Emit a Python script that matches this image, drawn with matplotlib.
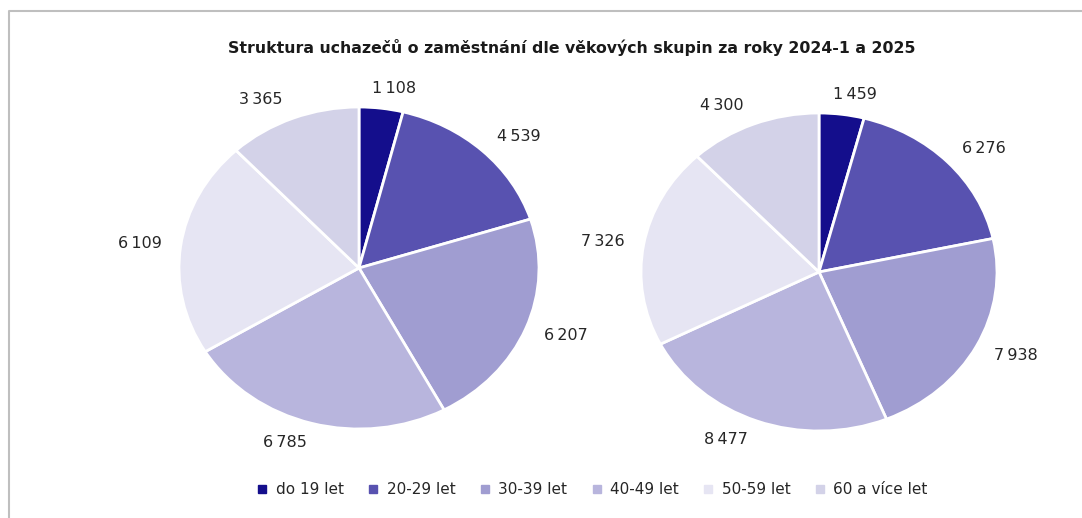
import numpy as np
import matplotlib.pyplot as plt
from matplotlib.lines import Line2D

categories = ["do 19 let", "20-29 let", "30-39 let", "40-49 let", "50-59 let", "60 a více let"]
values_2024 = [1108, 4539, 6207, 6785, 6109, 3365]
values_2025 = [1459, 6276, 7938, 8477, 7326, 4300]
colors = ["#140e8c", "#5852b0", "#a09dd1", "#b8b5dd", "#e6e5f3", "#d3d2e8"]

W, H = 1082, 518
fig = plt.figure(figsize=(W / 100, H / 100), dpi=100)


def fmt(v):
    return f"{v:,}".replace(",", "\u2009")


def draw_pie(values, cx, cy, rx, ry):
    # axes sized so that radius 1 maps to rx, ry pixels (ellipse like the original)
    lim = 1.5
    ax = fig.add_axes([(cx - rx * lim) / W, 1 - (cy + ry * lim) / H,
                       2 * rx * lim / W, 2 * ry * lim / H])
    wedges, _ = ax.pie(values, colors=colors, startangle=90, counterclock=False,
                       wedgeprops=dict(edgecolor="white", linewidth=2))
    ax.set_aspect("auto")
    ax.set_xlim(-lim, lim)
    ax.set_ylim(-lim, lim)
    ax.patch.set_visible(False)
    # labels outside end, pushed sideways like Excel does
    for w, v in zip(wedges, values):
        a = np.deg2rad((w.theta1 + w.theta2) / 2)
        c, s = np.cos(a), np.sin(a)
        dx = 19 * np.clip(c / 0.3, -1, 1)
        ax.annotate(fmt(v), xy=(1.08 * c, 1.08 * s), xytext=(dx, 5 * s),
                    textcoords="offset points", ha="center", va="center",
                    fontsize=11.5, color="#262626", annotation_clip=False)
    return wedges


draw_pie(values_2024, 359, 268, 180, 161)
draw_pie(values_2025, 819, 272, 178, 159)

fig.text(572 / W, 1 - 47 / H,
         "Struktura uchazečů o zaměstnání dle věkových skupin za roky 2024-1 a 2025",
         ha="center", va="center", fontsize=11.3, fontweight="bold", color="#1a1a1a")

handles = [Line2D([], [], marker="s", linestyle="", markersize=6, color=c) for c in colors]
fig.legend(handles, categories, loc="center", bbox_to_anchor=(592 / W, 1 - 490 / H),
           ncol=6, frameon=False, handlelength=0.8, handletextpad=0.5, columnspacing=1.5,
           prop=dict(size=11))
for t in fig.legends[0].get_texts():
    t.set_color("#262626")

# chart frame (only top and left edges visible)
fig.add_artist(Line2D([8.5 / W, 8.5 / W, 1], [0, 1 - 10.5 / H, 1 - 10.5 / H],
                      transform=fig.transFigure, color="#bfbfbf", linewidth=1.5))

fig.savefig("out.png", dpi=100)
